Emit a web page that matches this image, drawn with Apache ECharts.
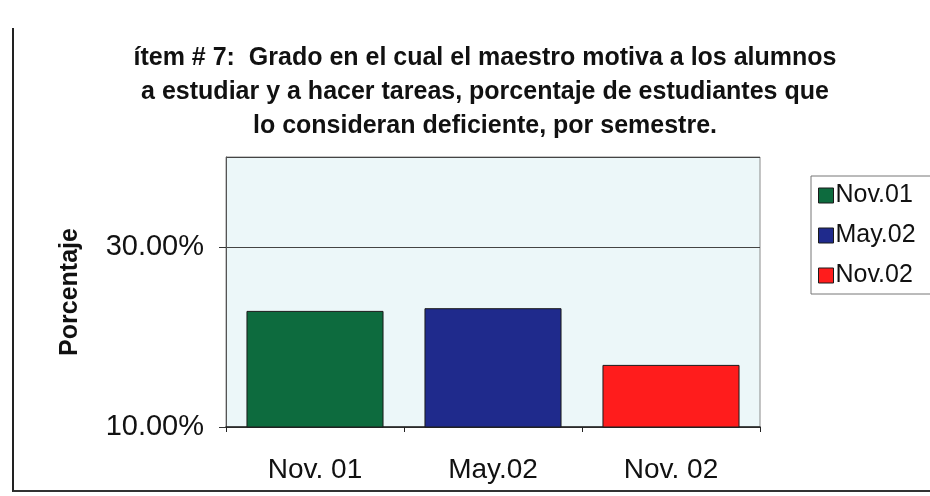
<!DOCTYPE html>
<html>
<head>
<meta charset="utf-8">
<script src="https://cdn.jsdelivr.net/npm/echarts@6/dist/echarts.min.js"></script>
<style>
  html, body { margin: 0; padding: 0; background: #fff; }
  #wrap { position: relative; width: 930px; height: 496px; overflow: hidden; }
  #chart { width: 930px; height: 496px; }
  #frame { position: absolute; left: 12px; top: 28px; width: 940px; height: 462px;
           border-left: 2px solid #222; border-bottom: 2px solid #333; pointer-events: none; }
</style>
</head>
<body>
<div id="wrap">
  <div id="chart"></div>
  <div id="frame"></div>
</div>
<script>
// categories and values
const categories = ['Nov. 01', 'May.02', 'Nov. 02']
const seriesNames = ['Nov.01', 'May.02', 'Nov.02']
const values = [22.9, 23.2, 16.9]
const colors = ['#0d6b3e', '#1f2a8c', '#ff1c1c']

const titleText = 'ítem # 7:  Grado en el cual el maestro motiva a los alumnos\na estudiar y a hacer tareas, porcentaje de estudiantes que\nlo consideran deficiente, por semestre.'

const chart = echarts.init(document.getElementById('chart'))

// one series per semester, each on its own category, stacked so it sits centred
const series = seriesNames.map((name, i) => ({
  name,
  type: 'bar',
  stack: 'all',
  barWidth: '77%',
  itemStyle: { color: colors[i], borderColor: '#1a1a1a', borderWidth: 1 },
  data: categories.map((c, j) => (j === i ? values[i] : '-'))
}))

const opt = {
  backgroundColor: '#fff',
  textStyle: { fontFamily: 'Liberation Sans, Arial, sans-serif', color: '#111' },
  title: {
    text: titleText,
    left: 480,
    textAlign: 'center',
    top: 36,
    textStyle: {
      fontFamily: 'Liberation Sans, Arial, sans-serif',
      fontSize: 25,
      fontWeight: 'bold',
      lineHeight: 34,
      color: '#111'
    }
  },
  legend: {
    orient: 'vertical',
    left: 811,
    top: 176,
    padding: [7, 40, 6, 7],
    itemWidth: 15,
    itemHeight: 15,
    itemGap: 15,
    icon: 'rect',
    borderColor: '#777',
    borderWidth: 1,
    backgroundColor: '#fff',
    itemStyle: { borderColor: '#1a1a1a', borderWidth: 1 },
    textStyle: { fontSize: 25, color: '#111', padding: [0, 0, 0, -3] },
    data: seriesNames
  },
  grid: {
    left: 226,
    top: 157,
    width: 534,
    height: 270,
    show: true,
    backgroundColor: '#ecf7f9',
    borderColor: '#8a8a8a',
    borderWidth: 1
  },
  xAxis: {
    type: 'category',
    data: categories,
    axisLine: { lineStyle: { color: '#222', width: 1.5 } },
    axisTick: { show: true, length: 5, lineStyle: { color: '#222' } },
    axisLabel: { fontSize: 28, color: '#111', margin: 29 }
  },
  yAxis: {
    type: 'value',
    min: 10,
    max: 40,
    interval: 20,
    name: 'Porcentaje',
    nameLocation: 'middle',
    nameRotate: 90,
    nameGap: 143,
    nameTextStyle: { fontSize: 25, fontWeight: 'bold', color: '#111' },
    axisLine: { show: true, lineStyle: { color: '#555' } },
    axisTick: { show: true, length: 7, lineStyle: { color: '#333' } },
    axisLabel: {
      fontSize: 29,
      color: '#111',
      margin: 22,
      showMaxLabel: false,
      formatter: v => v.toFixed(2) + '%'
    },
    splitLine: { show: true, lineStyle: { color: '#444', width: 1 } }
  },
  series
}

chart.setOption(opt)
</script>
</body>
</html>
